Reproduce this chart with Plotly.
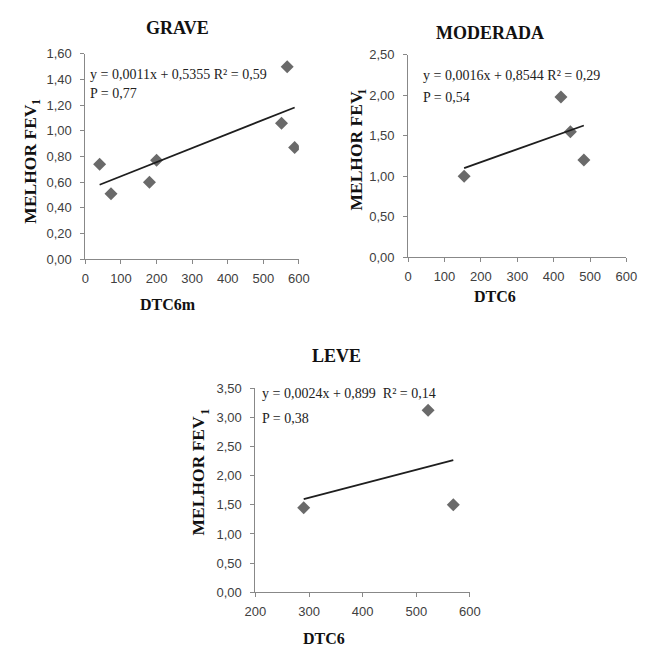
import numpy as np
import plotly.graph_objects as go

# ---- data ----
grave_x = [40, 72, 180, 200, 551, 567, 588]
grave_y = [0.74, 0.51, 0.60, 0.77, 1.06, 1.50, 0.87]
grave_fit = (0.0011, 0.5355)

mod_x = [154, 420, 446, 483]
mod_y = [1.00, 1.98, 1.55, 1.20]
mod_fit = (0.0016, 0.8544)

leve_x = [290, 522, 569]
leve_y = [1.45, 3.12, 1.50]
leve_fit = (0.0024, 0.899)

titles = ["GRAVE", "MODERADA", "LEVE"]
xtitles = ["DTC6m", "DTC6", "DTC6"]
ytitle = "MELHOR FEV"
ytitle_sub = "1"
equations = ["y = 0,0011x + 0,5355 R² = 0,59", "y = 0,0016x + 0,8544 R² = 0,29",
             "y = 0,0024x + 0,899  R² = 0,14"]
pvals = ["P = 0,77", "P = 0,54", "P = 0,38"]

W, H = 650, 656
def px(x): return x / W
def py(y): return (H - y) / H

MARK = "#6a6a6a"
AX = "#888888"
TICKC = "#404040"
SERIF = "Liberation Serif"
SANS = "Liberation Sans"

fig = go.Figure()
sets = [(grave_x, grave_y, grave_fit), (mod_x, mod_y, mod_fit), (leve_x, leve_y, leve_fit)]
for i, (xs, ys, (m, b)) in enumerate(sets):
    suf = "" if i == 0 else str(i + 1)
    fig.add_trace(go.Scatter(x=xs, y=ys, mode="markers",
                             marker=dict(symbol="diamond", size=10, color=MARK),
                             xaxis="x" + suf, yaxis="y" + suf, showlegend=False))
    lx = np.array([min(xs), max(xs)], dtype=float)
    fig.add_trace(go.Scatter(x=lx, y=m * lx + b, mode="lines",
                             line=dict(color="#1e1e1e", width=1.8),
                             xaxis="x" + suf, yaxis="y" + suf, showlegend=False))

# pixel geometry of the three plot areas: (x0, x1, y_top, y_bottom)
geo = [(77, 298, 48, 258), (411, 637, 49, 256), (253, 475, 390, 599)]
xr = [[0, 600], [0, 600], [200, 600]]
yr = [[0, 1.6], [0, 2.5], [0, 3.5]]
ydt = [0.2, 0.5, 0.5]
xdt = [100, 100, 100]

axcommon = dict(showgrid=False, zeroline=False, showline=True, linecolor=AX, linewidth=1,
                ticks="outside", ticklen=4, tickcolor=AX, tickwidth=1,
                tickfont=dict(family=SANS, size=13, color=TICKC))
for i in range(3):
    suf = "" if i == 0 else str(i + 1)
    x0, x1, yt, yb = geo[i]
    fig.layout["xaxis" + suf] = dict(axcommon, domain=[px(x0), px(x1)], range=xr[i],
                                     dtick=xdt[i], tick0=0, anchor="y" + suf,
                                     ticklabelstandoff=3)
    fig.layout["yaxis" + suf] = dict(axcommon, domain=[py(yb), py(yt)], range=yr[i],
                                     dtick=ydt[i], tick0=0, tickformat=".2f",
                                     anchor="x" + suf, ticklabelstandoff=6)

ann = []
title_pos = [(172, 22), (496, 27), (337, 357)]
xt_pos = [(163, 304), (501, 296), (324, 646)]
yt_pos = [(20, 161), (357, 147), (194, 480)]
ysub_pos = [(26, 97), (363, 87), (200, 414)]
eq_pos = [(80, 69, 89), (424, 70, 93), (258, 396, 421)]
for i in range(3):
    ann.append(dict(text="<b>%s</b>" % titles[i], x=px(title_pos[i][0]), y=py(title_pos[i][1]),
                    xref="paper", yref="paper", showarrow=False, xanchor="center", yanchor="middle",
                    font=dict(family=SERIF, size=18, color="#111111")))
    ann.append(dict(text="<b>%s</b>" % xtitles[i], x=px(xt_pos[i][0]), y=py(xt_pos[i][1]),
                    xref="paper", yref="paper", showarrow=False, xanchor="center", yanchor="middle",
                    font=dict(family=SERIF, size=16, color="#111111")))
    ann.append(dict(text="<b>%s</b>" % ytitle, x=px(yt_pos[i][0]), y=py(yt_pos[i][1]),
                    xref="paper", yref="paper", showarrow=False, xanchor="center", yanchor="middle",
                    textangle=-90, font=dict(family=SERIF, size=17.5, color="#111111")))
    ann.append(dict(text="<b>%s</b>" % ytitle_sub, x=px(ysub_pos[i][0]), y=py(ysub_pos[i][1]),
                    xref="paper", yref="paper", showarrow=False, xanchor="center", yanchor="middle",
                    textangle=-90, font=dict(family=SERIF, size=12, color="#111111")))
    ann.append(dict(text=equations[i], x=px(eq_pos[i][0]), y=py(eq_pos[i][1]),
                    xref="paper", yref="paper", showarrow=False, xanchor="left", yanchor="middle",
                    font=dict(family=SERIF, size=14, color="#222222")))
    ann.append(dict(text=pvals[i], x=px(eq_pos[i][0]), y=py(eq_pos[i][2]),
                    xref="paper", yref="paper", showarrow=False, xanchor="left", yanchor="middle",
                    font=dict(family=SERIF, size=14, color="#222222")))

fig.update_layout(width=W, height=H, margin=dict(l=0, r=0, t=0, b=0),
                  paper_bgcolor="white", plot_bgcolor="white", separators=", ",
                  annotations=ann, showlegend=False)
fig.write_html("out.html")
